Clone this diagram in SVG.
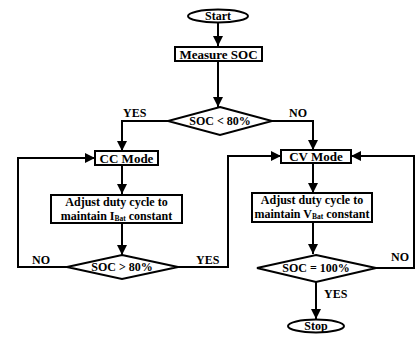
<svg xmlns="http://www.w3.org/2000/svg" width="417" height="340" viewBox="0 0 417 340">
<defs>
<marker id="ah" viewBox="0 0 10 10" refX="10" refY="5" markerWidth="5" markerHeight="5" orient="auto" markerUnits="strokeWidth">
<path d="M0,0 L10,5 L0,10 Z" fill="#000"/>
</marker>
<style>
.s{fill:#fff;stroke:#000;stroke-width:2}
.c{fill:none;stroke:#000;stroke-width:2}
.a{marker-end:url(#ah)}
text{font-family:"Liberation Serif","Times New Roman",serif;font-weight:bold;font-size:12px;fill:#000}
.m{text-anchor:middle}
.b{font-size:13px}
</style>
</defs>
<rect width="417" height="340" fill="#fff"/>
<g id="connectors">
<line class="c a" x1="218" y1="22" x2="218" y2="46"/>
<line class="c a" x1="218" y1="61" x2="218" y2="107"/>
<polyline class="c a" points="168,121 122,121 122,151"/>
<polyline class="c a" points="272,121 313,121 313,150"/>
<line class="c a" x1="122" y1="165" x2="122" y2="194"/>
<line class="c a" x1="122" y1="223" x2="122" y2="255"/>
<polyline class="c a" points="67,267 18,267 18,158 95,158"/>
<polyline class="c a" points="178,267 228,267 228,156 281,156"/>
<line class="c a" x1="313" y1="163" x2="313" y2="193"/>
<line class="c a" x1="313" y1="222" x2="313" y2="254"/>
<polyline class="c a" points="376,268 414,268 414,156 351,156"/>
<line class="c a" x1="316" y1="282" x2="316" y2="319"/>
<text x="123" y="117">YES</text>
<text x="289" y="117">NO</text>
<text x="32" y="264">NO</text>
<text x="196" y="264">YES</text>
<text x="391" y="261">NO</text>
<text x="324" y="298">YES</text>
</g>
<g id="start">
<ellipse class="s" cx="218" cy="16" rx="30" ry="6.5"/>
<text class="m" x="218" y="20">Start</text>
</g>
<g id="measure">
<rect class="s" x="175" y="47" width="87" height="14"/>
<text class="m b" x="218.5" y="58.5">Measure SOC</text>
</g>
<g id="dec1">
<polygon class="s" points="220,107 272,121 220,135 168,121"/>
<text class="m" x="220" y="125">SOC &lt; 80%</text>
</g>
<g id="ccmode">
<rect class="s" x="95" y="151" width="63" height="14"/>
<text class="m b" x="126.5" y="162.5">CC Mode</text>
</g>
<g id="adjust1">
<rect class="s" x="51" y="195" width="131" height="28"/>
<text class="m" x="116.5" y="206">Adjust duty cycle to</text>
<text class="m" x="116.5" y="219.5">maintain I<tspan font-size="7.5" dy="1.5">Bat</tspan><tspan dy="-1.5"> constant</tspan></text>
</g>
<g id="dec2">
<polygon class="s" points="122,255 178,267 122,279 67,267"/>
<text class="m" x="122" y="271">SOC &gt; 80%</text>
</g>
<g id="cvmode">
<rect class="s" x="281" y="150" width="70" height="13"/>
<text class="m b" x="316" y="160.5">CV Mode</text>
</g>
<g id="adjust2">
<rect class="s" x="252" y="193" width="120" height="29"/>
<text class="m" x="312" y="204">Adjust duty cycle to</text>
<text class="m" x="312" y="217.5">maintain V<tspan font-size="7.5" dy="1.5">Bat</tspan><tspan dy="-1.5"> constant</tspan></text>
</g>
<g id="dec3">
<polygon class="s" points="316,255 376,268 316,282 257,268"/>
<text class="m" x="316" y="272">SOC = 100%</text>
</g>
<g id="stop">
<ellipse class="s" cx="316" cy="326" rx="28" ry="6.5"/>
<text class="m" x="316" y="330">Stop</text>
</g>
</svg>
